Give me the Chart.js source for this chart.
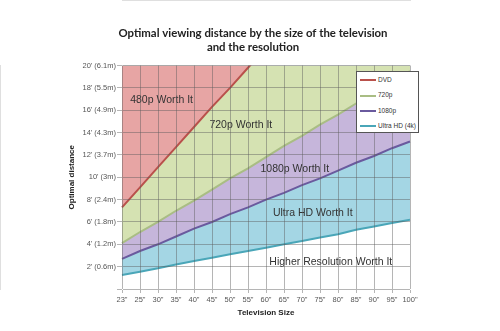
<!DOCTYPE html>
<html>
<head>
<meta charset="utf-8">
<script src="https://cdn.jsdelivr.net/npm/chart.js@4/dist/chart.umd.min.js"></script>
<style>
  html, body { margin: 0; padding: 0; background: #fff; }
  #wrap { position: relative; width: 500px; height: 331px; }
  #legend { position: absolute; left: 356px; top: 71px; width: 63px; height: 62px;
    background: #fff; border: 1px solid #555; box-sizing: border-box;
    font-family: "Liberation Sans", Arial, sans-serif; font-size: 6.5px; color: #333; }
  .li { position: absolute; left: 3px; height: 10px; line-height: 10px; white-space: nowrap; }
  .sw { display: inline-block; width: 16px; height: 2px; vertical-align: middle; margin-right: 2px; }
</style>
</head>
<body>
<div id="wrap">
  <canvas id="c" width="500" height="331"></canvas>
  <div id="legend"></div>
</div>
<script>
// Television sizes (categories)
const sizes = ['23"', '25"', '30"', '35"', '40"', '45"', '50"', '55"', '60"', '65"', '70"', '75"', '80"', '85"', '90"', '95"', '100"'];
// Distances in feet
const dvd    = [7.3, 9.1, 10.9, 12.7, 14.5, 16.3, 18.0, 19.8, 21.6, null, null, null, null, null, null, null, null];
const p720   = [4.1, 5.1, 6.0, 7.0, 7.9, 8.9, 9.9, 10.8, 11.8, 12.8, 13.7, 14.7, 15.6, 16.6, 17.6, 18.5, 19.5];
const p1080  = [2.7, 3.4, 4.0, 4.7, 5.4, 6.0, 6.7, 7.3, 8.0, 8.6, 9.3, 9.9, 10.6, 11.3, 11.9, 12.6, 13.2];
const uhd4k  = [1.25, 1.55, 1.85, 2.2, 2.5, 2.8, 3.1, 3.4, 3.7, 4.0, 4.3, 4.6, 4.9, 5.3, 5.6, 5.9, 6.2];
const seriesNames = ['DVD', '720p', '1080p', 'Ultra HD (4k)'];
const yTickLabels = {2: "2' (0.6m)", 4: "4' (1.2m)", 6: "6' (1.8m)", 8: "8' (2.4m)", 10: "10' (3m)",
  12: "12' (3.7m)", 14: "14' (4.3m)", 16: "16' (4.9m)", 18: "18' (5.5m)", 20: "20' (6.1m)"};
const regionLabels = ['480p Worth It', '720p Worth It', '1080p Worth It', 'Ultra HD Worth It', 'Higher Resolution Worth It'];
const regionX = [2.2, 6.6, 9.6, 10.6, 11.6];
const regionY = [16.9, 14.7, 10.7, 6.8, 2.4];

const lineColors = ['#b9514b', '#a9bd84', '#6a5a9e', '#4aa6b8'];
const fillColors = ['#e7a5a4', '#d5e2b2', '#c6b6db', '#a4d6e4'];

const regionPlugin = {
  id: 'regionLabels',
  afterDatasetsDraw(chart) {
    const {ctx, scales: {x, y}} = chart;
    ctx.save();
    ctx.font = '10.5px "Liberation Sans", Arial, sans-serif';
    ctx.fillStyle = '#333';
    ctx.textAlign = 'center';
    ctx.textBaseline = 'middle';
    regionLabels.forEach((t, i) => {
      ctx.fillText(t, x.getPixelForValue(regionX[i]), y.getPixelForValue(regionY[i]));
    });
    ctx.restore();
  }
};

const data = [dvd, p720, p1080, uhd4k];
const chart = new Chart(document.getElementById('c'), {
  type: 'line',
  data: {
    labels: sizes,
    datasets: data.map((d, i) => ({
      label: seriesNames[i],
      data: d,
      borderColor: lineColors[i],
      backgroundColor: fillColors[i],
      borderWidth: 2,
      pointRadius: 0,
      tension: 0,
      fill: 'end',
      yAxisID: 'y'
    }))
  },
  options: {
    responsive: false,
    animation: false,
    devicePixelRatio: 1,
    layout: { padding: { left: 6, right: 0, top: 0, bottom: 0 } },
    plugins: {
      legend: { display: false },
      tooltip: { enabled: false },
      title: {
        display: true,
        text: ['Optimal viewing distance by the size of the television', 'and the resolution'],
        font: { family: 'Lato, "Liberation Sans", sans-serif', size: 11.4, weight: 'bold', lineHeight: 1.25 },
        color: '#222',
        padding: { top: 26, bottom: 11 }
      }
    },
    scales: {
      x: {
        grid: { color: 'rgba(90,90,90,0.45)', lineWidth: 1, tickLength: 4, z: 1 },
        border: { display: true, color: 'rgba(150,150,150,0.6)' },
        ticks: { color: '#555', font: { family: '"Liberation Sans", Arial, sans-serif', size: 7.5 }, padding: 2, maxRotation: 0, autoSkip: false },
        title: { display: true, text: 'Television Size', color: '#222',
          font: { family: '"Liberation Sans", Arial, sans-serif', size: 8, weight: 'bold' }, padding: { top: 0, bottom: 13 } },
        afterFit(s) { s.height = 42; }
      },
      y: {
        min: 0, max: 20,
        grid: { color: 'rgba(90,90,90,0.45)', lineWidth: 1, tickLength: 5, z: 1 },
        border: { display: true, color: 'rgba(150,150,150,0.6)' },
        ticks: { stepSize: 2, color: '#555', font: { family: '"Liberation Sans", Arial, sans-serif', size: 7.5 }, padding: 1,
          callback: v => yTickLabels[v] || '' },
        title: { display: true, text: 'Optimal distance', color: '#222',
          font: { family: '"Liberation Sans", Arial, sans-serif', size: 8, weight: 'bold' }, padding: { top: 61, bottom: 0 } },
        afterFit(s) { s.width = 116; }
      },
      ySpacer: {
        type: 'linear', axis: 'y', position: 'right', display: true,
        grid: { display: false, drawTicks: false }, border: { display: false },
        ticks: { display: false },
        afterFit(s) { s.width = 90; }
      }
    }
  },
  plugins: [regionPlugin]
});

// HTML legend built from the datasets
const leg = document.getElementById('legend');
chart.data.datasets.forEach((ds, i) => {
  const el = document.createElement('div');
  el.className = 'li';
  el.style.top = (3 + i * 15.3) + 'px';
  const sw = document.createElement('span');
  sw.className = 'sw';
  sw.style.background = ds.borderColor;
  el.appendChild(sw);
  el.appendChild(document.createTextNode(ds.label));
  leg.appendChild(el);
});
</script>
</body>
</html>
